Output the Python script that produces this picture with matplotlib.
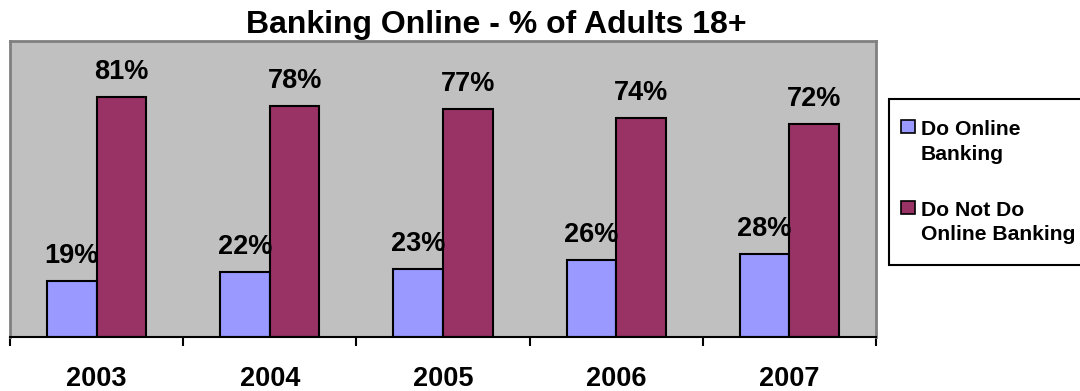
import matplotlib
matplotlib.use("Agg")
import matplotlib.pyplot as plt
from matplotlib.patches import Rectangle
import numpy as np

years = ["2003", "2004", "2005", "2006", "2007"]
do_online = [19, 22, 23, 26, 28]
do_not_online = [81, 78, 77, 74, 72]
series_lines = [["Do Online", "Banking"], ["Do Not Do", "Online Banking"]]
title = "Banking Online - % of Adults 18+"

color_online = '#9999FF'
color_offline = '#993366'

plt.rcParams['font.family'] = ['Liberation Sans', 'DejaVu Sans']
plt.rcParams['font.weight'] = 'bold'

W, H = 1080, 391
fig = plt.figure(figsize=(W / 100, H / 100), dpi=100)
fig.patch.set_facecolor('white')
ax = fig.add_axes([10 / W, 1 - 337 / H, 866 / W, 296 / H])
ax.set_facecolor('#C0C0C0')

x = np.arange(len(years))
w = 0.286
b1 = ax.bar(x - w / 2, do_online, w, color=color_online, edgecolor='black', linewidth=1.5)
b2 = ax.bar(x + w / 2, do_not_online, w, color=color_offline, edgecolor='black', linewidth=1.5)

ax.set_xlim(-0.5, len(years) - 0.5)
ax.set_ylim(0, 100)

for bars, vals in ((b1, do_online), (b2, do_not_online)):
    for rect, v in zip(bars, vals):
        ax.annotate(f"{v}%", (rect.get_x() + rect.get_width() / 2, v),
                    xytext=(0, 13), textcoords='offset points',
                    ha='center', va='baseline', fontsize=19.5, fontweight='bold')

for side in ('top', 'left', 'right'):
    ax.spines[side].set_color('#808080')
    ax.spines[side].set_linewidth(2)
ax.spines['bottom'].set_color('black')
ax.spines['bottom'].set_linewidth(1.5)

ax.set_yticks([])
ax.set_xticks(x, years)
ax.set_xticks(np.arange(-0.5, len(years)), minor=True)
ax.tick_params(axis='x', which='major', length=0, pad=21, labelsize=19.5)
ax.tick_params(axis='x', which='minor', length=6.5, width=1.5, direction='out', color='black')

fig.text(496 / W, 1 - 33 / H, title, ha='center', va='baseline',
         fontsize=23, fontweight='bold')

# Legend box (runs past the right edge of the figure)
fig.patches.append(Rectangle((889 / W, 1 - 265 / H), 210 / W, 166 / H,
                             transform=fig.transFigure, facecolor='white',
                             edgecolor='black', linewidth=1.5, zorder=1))
entry_tops = [120, 201]
for color, lines, top in zip((color_online, color_offline), series_lines, entry_tops):
    fig.patches.append(Rectangle((901 / W, 1 - (top + 13) / H), 14 / W, 13 / H,
                                 transform=fig.transFigure, facecolor=color,
                                 edgecolor='black', linewidth=1.2, zorder=2))
    for i, line in enumerate(lines):
        fig.text(921 / W, 1 - (top + 15 + 24.5 * i) / H, line, ha='left',
                 va='baseline', fontsize=15.2, fontweight='bold', zorder=3)

fig.savefig('out.png', dpi=100)
